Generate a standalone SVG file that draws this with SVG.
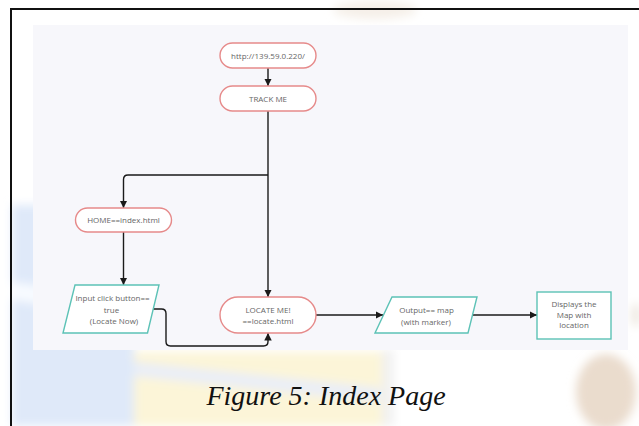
<svg xmlns="http://www.w3.org/2000/svg" width="639" height="426" viewBox="0 0 639 426">
  <defs>
    <style>
      .pill { fill: #ffffff; stroke: #e68a8a; stroke-width: 1.4; }
      .io { fill: #ffffff; stroke: #5cc2b6; stroke-width: 1.4; }
      .lbl { font-family: "Open Sans", "Liberation Sans", sans-serif; font-size: 8px; fill: #666666; text-anchor: middle; }
      .wire { fill: none; stroke: #1a1a1a; stroke-width: 1.4; }
      .cap { font-family: "Liberation Serif", "Times New Roman", serif; font-style: italic; font-size: 28px; fill: #111111; text-anchor: middle; }
    </style>
    <marker id="head" viewBox="0 0 10 10" refX="10" refY="5" markerWidth="7.5" markerHeight="7.5" markerUnits="userSpaceOnUse" orient="auto">
      <path d="M0,0 L10,5 L0,10 z" fill="#1a1a1a"/>
    </marker>
    <filter id="soft" x="-20%" y="-20%" width="140%" height="140%">
      <feGaussianBlur stdDeviation="5"/>
    </filter>
  </defs>

  <!-- page background with faded letterhead artwork -->
  <rect x="0" y="0" width="639" height="426" fill="#ffffff"/>
  <g id="backdrop" filter="url(#soft)">
    <rect x="12" y="205" width="122" height="221" fill="#dfe9f9"/>
    <path d="M12,282 L134,300 L134,318 L12,300 z" fill="#f8fbff"/>
    <rect x="134" y="352" width="248" height="74" fill="#fcf5d8"/>
    <path d="M134,362 L380,388 L380,402 L134,376 z" fill="#e9eef8"/>
    <rect x="382" y="350" width="12" height="76" fill="#f1f1f1"/>
    <ellipse cx="606" cy="392" rx="30" ry="38" fill="#eadccd"/>
    <ellipse cx="375" cy="10" rx="42" ry="9" fill="#f5efe8"/>
    <ellipse cx="636" cy="315" rx="5" ry="12" fill="#eee8e1"/>
  </g>

  <!-- outer frame -->
  <path d="M11,426 V9 H639" fill="none" stroke="#111111" stroke-width="2"/>

  <!-- drawing panel -->
  <rect x="33" y="25" width="595" height="325" fill="#f7f7fb"/>

  <g id="connectors">
    <path class="wire" d="M268,68 V86" marker-end="url(#head)"/>
    <path class="wire" d="M268,111 V297" marker-end="url(#head)"/>
    <path class="wire" d="M268,175 H128 Q123.5,175 123.5,179.5 V208" marker-end="url(#head)"/>
    <path class="wire" d="M123.5,232 V285" marker-end="url(#head)"/>
    <path class="wire" d="M153,309 H161.5 Q166,309 166,313.5 V341.5 Q166,346 170.5,346 H263.5 Q268,346 268,341.5 V333" marker-end="url(#head)"/>
    <path class="wire" d="M316,315 H383" marker-end="url(#head)"/>
    <path class="wire" d="M472,315 H537" marker-end="url(#head)"/>
  </g>

  <g id="start">
    <rect class="pill" x="220" y="43" width="96" height="25" rx="12.5"/>
    <text class="lbl" x="268" y="58.5">http://139.59.0.220/</text>
  </g>

  <g id="track">
    <rect class="pill" x="220" y="86" width="96" height="25" rx="12.5"/>
    <text class="lbl" x="268" y="101.5">TRACK ME</text>
  </g>

  <g id="home">
    <rect class="pill" x="75.5" y="208" width="96" height="24" rx="12"/>
    <text class="lbl" x="123.5" y="222.8">HOME==index.html</text>
  </g>

  <g id="input">
    <polygon class="io" points="75,285 159,285 147.5,333 63,333"/>
    <text class="lbl" x="112.5" y="301">Input click button==</text>
    <text class="lbl" x="111.5" y="312.5">true</text>
    <text class="lbl" x="114" y="324">(Locate Now)</text>
  </g>

  <g id="locate">
    <rect class="pill" x="220" y="297" width="96" height="36" rx="18"/>
    <text class="lbl" x="268" y="312.5">LOCATE ME!</text>
    <text class="lbl" x="268" y="324">==locate.html</text>
  </g>

  <g id="output">
    <polygon class="io" points="392,297 477,297 468,333 375,333"/>
    <text class="lbl" x="426.5" y="313">Output== map</text>
    <text class="lbl" x="426" y="324.5">(with marker)</text>
  </g>

  <g id="display">
    <rect class="io" x="537" y="292" width="74" height="47"/>
    <text class="lbl" x="574" y="307">Displays the</text>
    <text class="lbl" x="574" y="317.5">Map with</text>
    <text class="lbl" x="574" y="328">location</text>
  </g>

  <text class="cap" x="326" y="405">Figure 5: Index Page</text>
</svg>
